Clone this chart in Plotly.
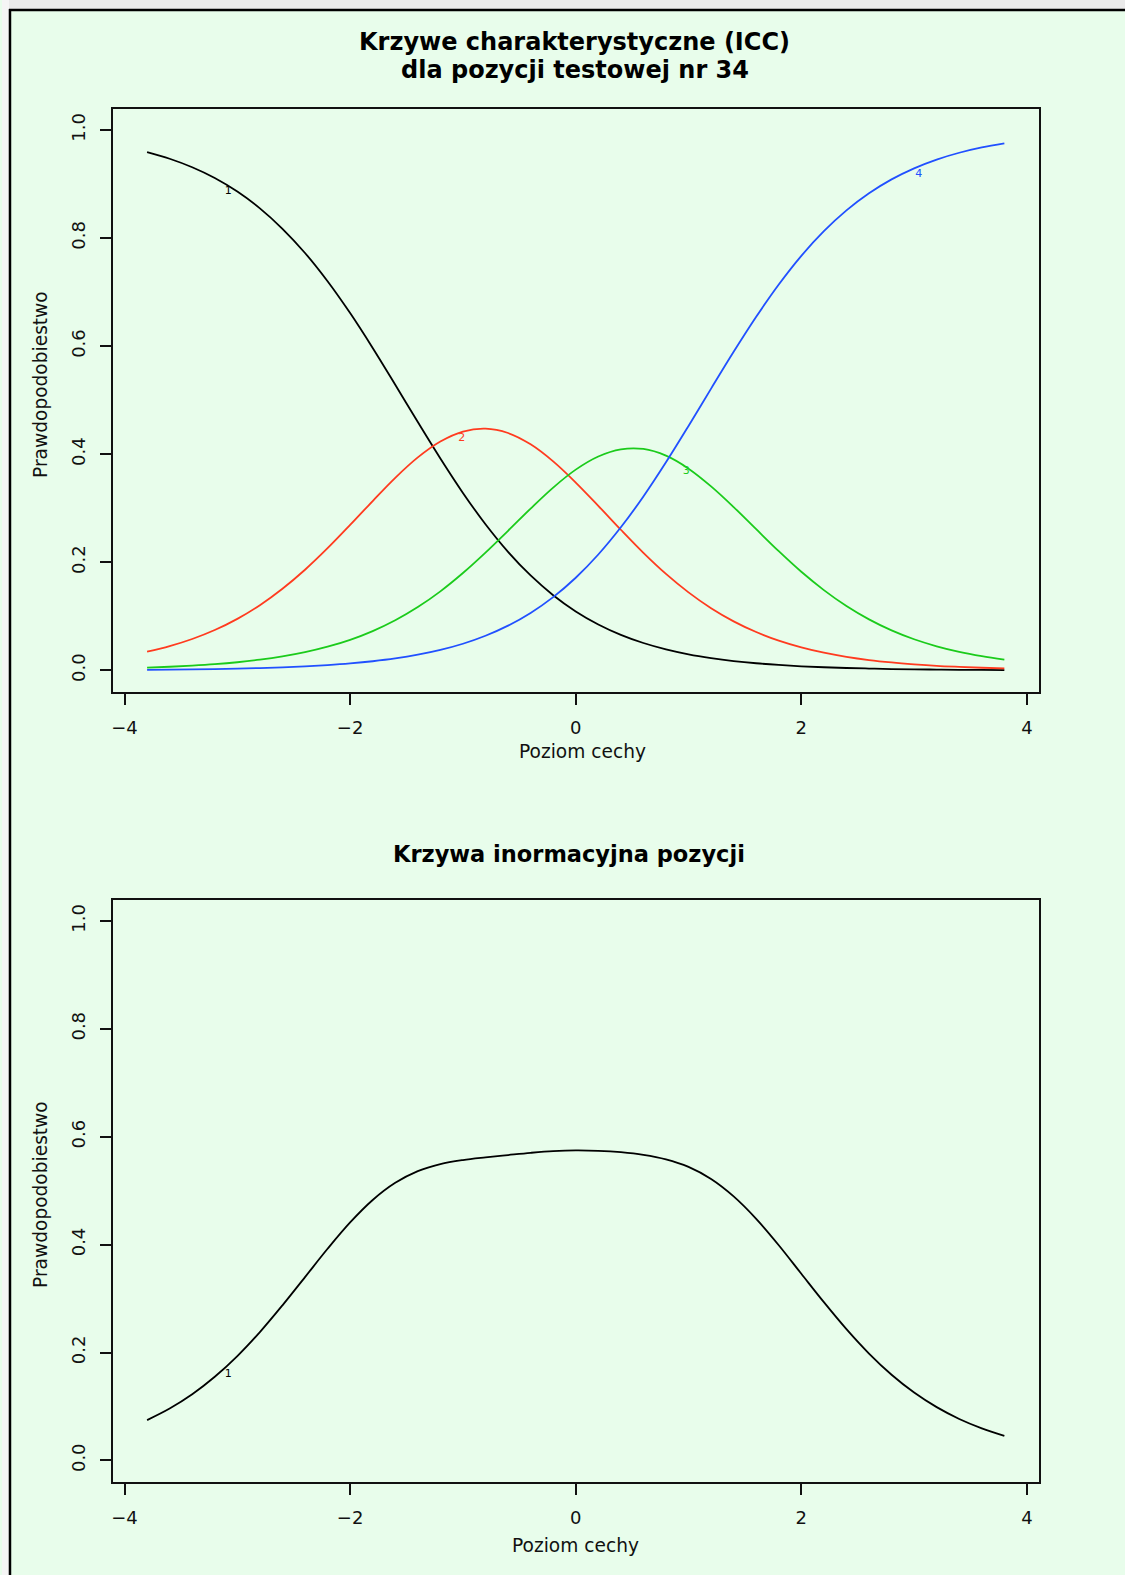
import plotly.graph_objects as go

# Trait level grid (theta) shared by all curves
theta = [-3.8, -3.6, -3.4, -3.2, -3.0, -2.8, -2.6, -2.4, -2.2, -2.0,
         -1.8, -1.6, -1.4, -1.2, -1.0, -0.8, -0.6, -0.4, -0.2, 0.0,
         0.2, 0.4, 0.6, 0.8, 1.0, 1.2, 1.4, 1.6, 1.8, 2.0,
         2.2, 2.4, 2.6, 2.8, 3.0, 3.2, 3.4, 3.6, 3.8]

# Category characteristic curves (probability of each response category)
cat1 = [0.9593, 0.9470, 0.9312, 0.9113, 0.8862, 0.8552, 0.8174, 0.7726, 0.7203, 0.6613,
        0.5968, 0.5287, 0.4596, 0.3922, 0.3285, 0.2705, 0.2194, 0.1757, 0.1392, 0.1092,
        0.0850, 0.0658, 0.0507, 0.0389, 0.0298, 0.0228, 0.0173, 0.0132, 0.0101, 0.0076,
        0.0058, 0.0044, 0.0034, 0.0025, 0.0019, 0.0015, 0.0011, 0.0008, 0.0006]
cat2 = [0.0346, 0.0449, 0.0581, 0.0747, 0.0954, 0.1207, 0.1511, 0.1863, 0.2261, 0.2692,
        0.3135, 0.3564, 0.3942, 0.4236, 0.4420, 0.4474, 0.4394, 0.4184, 0.3868, 0.3477,
        0.3046, 0.2603, 0.2176, 0.1786, 0.1444, 0.1151, 0.0908, 0.0710, 0.0551, 0.0426,
        0.0327, 0.0251, 0.0192, 0.0147, 0.0112, 0.0084, 0.0065, 0.0049, 0.0038]
cat3 = [0.0050, 0.0067, 0.0088, 0.0115, 0.0151, 0.0198, 0.0259, 0.0337, 0.0438, 0.0566,
        0.0728, 0.0928, 0.1172, 0.1463, 0.1802, 0.2180, 0.2584, 0.2995, 0.3384, 0.3716,
        0.3959, 0.4091, 0.4098, 0.3974, 0.3734, 0.3406, 0.3023, 0.2613, 0.2206, 0.1825,
        0.1486, 0.1191, 0.0944, 0.0740, 0.0576, 0.0446, 0.0343, 0.0264, 0.0201]
cat4 = [0.0011, 0.0014, 0.0019, 0.0025, 0.0033, 0.0043, 0.0056, 0.0074, 0.0098, 0.0129,
        0.0169, 0.0221, 0.0290, 0.0379, 0.0493, 0.0641, 0.0828, 0.1064, 0.1356, 0.1715,
        0.2145, 0.2648, 0.3219, 0.3851, 0.4524, 0.5215, 0.5896, 0.6545, 0.7142, 0.7673,
        0.8129, 0.8514, 0.8831, 0.9088, 0.9293, 0.9455, 0.9581, 0.9679, 0.9755]

# Item information function
info = [0.0748, 0.0962, 0.1227, 0.1551, 0.1935, 0.2380, 0.2876, 0.3399, 0.3924, 0.4413,
        0.4829, 0.5147, 0.5364, 0.5494, 0.5569, 0.5619, 0.5662, 0.5703, 0.5735, 0.5749,
        0.5741, 0.5715, 0.5666, 0.5582, 0.5442, 0.5218, 0.4895, 0.4479, 0.3990, 0.3461,
        0.2934, 0.2434, 0.1982, 0.1589, 0.1259, 0.0988, 0.0769, 0.0595, 0.0457]

# Curve labels: (text, theta, value)
icc_labels = [("1", -3.08, 0.886), ("2", -1.01, 0.429), ("3", 0.98, 0.368), ("4", 3.04, 0.919)]
info_labels = [("1", -3.08, 0.159)]

x_ticks = [-4, -2, 0, 2, 4]
y_ticks = [0.0, 0.2, 0.4, 0.6, 0.8, 1.0]
y_ticktext = ["0.0", "0.2", "0.4", "0.6", "0.8", "1.0"]

W, H = 1125, 1575
BG = "#E8FDEB"
FONT = "DejaVu Sans"
colors = ["#000000", "#FF3B1F", "#1BCB1B", "#2150FF"]


def px(x):
    return x / W


def py(y):
    return 1 - y / H


fig = go.Figure()

for vals, col in zip([cat1, cat2, cat3, cat4], colors):
    fig.add_trace(go.Scatter(x=theta, y=vals, mode="lines",
                             line=dict(color=col, width=1.8, shape="spline", smoothing=1.0),
                             xaxis="x", yaxis="y", showlegend=False, hoverinfo="skip"))

for (t, xv, yv), col in zip(icc_labels, colors):
    fig.add_trace(go.Scatter(x=[xv], y=[yv], mode="text", text=[t],
                             textfont=dict(family=FONT, size=11, color=col),
                             xaxis="x", yaxis="y", showlegend=False, hoverinfo="skip"))

fig.add_trace(go.Scatter(x=theta, y=info, mode="lines",
                         line=dict(color="#000000", width=1.8, shape="spline", smoothing=1.0),
                         xaxis="x2", yaxis="y2", showlegend=False, hoverinfo="skip"))
for t, xv, yv in info_labels:
    fig.add_trace(go.Scatter(x=[xv], y=[yv], mode="text", text=[t],
                             textfont=dict(family=FONT, size=11, color="#000000"),
                             xaxis="x2", yaxis="y2", showlegend=False, hoverinfo="skip"))

x_dom = [px(111), px(1038.5)]
top_dom = [py(692), py(108.5)]
bot_dom = [py(1482), py(899.5)]

axis_common = dict(showline=True, mirror=True, linecolor="#111111", linewidth=1.5,
                   ticks="outside", ticklen=11, tickwidth=1.5, tickcolor="#111111",
                   showgrid=False, zeroline=False,
                   tickfont=dict(family=FONT, size=18, color="#111111"))

xa = dict(axis_common, range=[-4.104, 4.104], tickvals=x_ticks, ticklabelstandoff=8)
ya = dict(axis_common, range=[-0.04, 1.04], tickvals=y_ticks, ticktext=y_ticktext,
          tickangle=-90, ticklabelstandoff=8)

fig.update_layout(
    width=W, height=H,
    margin=dict(l=0, r=0, t=0, b=0),
    paper_bgcolor=BG, plot_bgcolor=BG,
    xaxis=dict(xa, domain=x_dom, anchor="y"),
    yaxis=dict(ya, domain=top_dom, anchor="x"),
    xaxis2=dict(xa, domain=x_dom, anchor="y2"),
    yaxis2=dict(ya, domain=bot_dom, anchor="x2"),
)

ann = []
top_title_font = dict(family=FONT, size=24, color="#000000")
bot_title_font = dict(family=FONT, size=22.5, color="#000000")
ann.append(dict(text="<b>Krzywe charakterystyczne (ICC)</b>", x=px(574), y=py(42),
                xref="paper", yref="paper", showarrow=False, font=top_title_font,
                xanchor="center", yanchor="middle"))
ann.append(dict(text="<b>dla pozycji testowej nr 34</b>", x=px(574), y=py(70),
                xref="paper", yref="paper", showarrow=False, font=top_title_font,
                xanchor="center", yanchor="middle"))
ann.append(dict(text="<b>Krzywa inormacyjna pozycji</b>", x=px(568), y=py(854),
                xref="paper", yref="paper", showarrow=False, font=bot_title_font,
                xanchor="center", yanchor="middle"))

label_font = dict(family=FONT, size=18.6, color="#111111")
for xc, yc in ((582, 751), (575, 1545)):
    ann.append(dict(text="Poziom cechy", x=px(xc), y=py(yc), xref="paper", yref="paper",
                    showarrow=False, font=label_font, xanchor="center", yanchor="middle"))
for yc in (384, 1194):
    ann.append(dict(text="Prawdopodobiestwo", x=px(38), y=py(yc), xref="paper", yref="paper",
                    showarrow=False, font=label_font, textangle=-90,
                    xanchor="center", yanchor="middle"))
fig.update_layout(annotations=ann)

# Page frame: grey margin strips and the dark border on top and left
fig.update_layout(shapes=[
    dict(type="rect", xref="paper", yref="paper", x0=0, x1=1, y0=py(9), y1=1,
         fillcolor="#EAEAEA", line=dict(width=0), layer="above"),
    dict(type="rect", xref="paper", yref="paper", x0=0, x1=px(7), y0=0, y1=1,
         fillcolor="#F5F5F5", line=dict(width=0), layer="above"),
    dict(type="line", xref="paper", yref="paper", x0=px(7), x1=1, y0=py(10), y1=py(10),
         line=dict(color="#000000", width=2.5), layer="above"),
    dict(type="line", xref="paper", yref="paper", x0=px(8), x1=px(8), y0=0, y1=py(9),
         line=dict(color="#000000", width=2.5), layer="above"),
])

fig.write_html("out.html")
